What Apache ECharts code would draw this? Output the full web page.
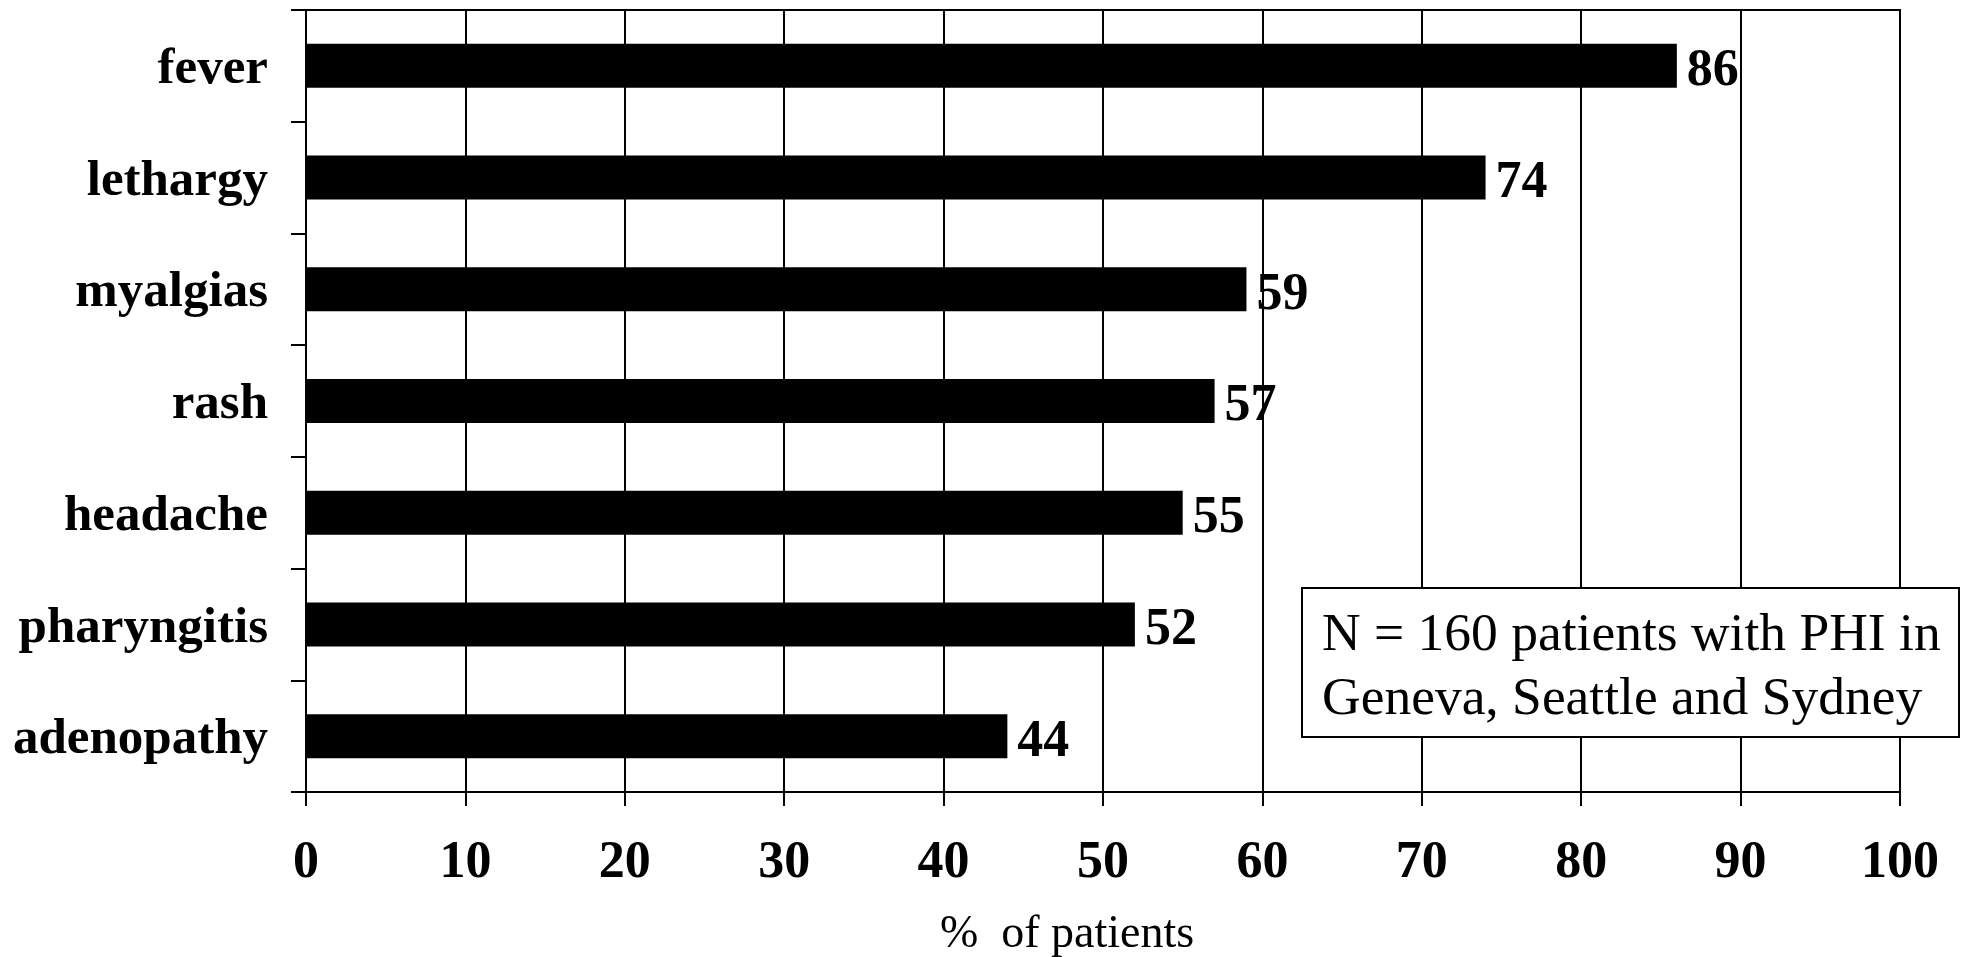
<!DOCTYPE html>
<html>
<head>
<meta charset="utf-8">
<script src="https://cdn.jsdelivr.net/npm/echarts@6/dist/echarts.min.js"></script>
<style>
html,body{margin:0;padding:0;background:#fff;}
#chart{width:1966px;height:957px;}
</style>
</head>
<body>
<div id="chart"></div>
<script>
const categories = ['fever', 'lethargy', 'myalgias', 'rash', 'headache', 'pharyngitis', 'adenopathy'];
const values = [86, 74, 59, 57, 55, 52, 44];
const xTicks = [0, 10, 20, 30, 40, 50, 60, 70, 80, 90, 100];
const axisTitle = '%  of patients';
const noteLines = ['N = 160 patients with PHI in', 'Geneva, Seattle and Sydney'];

const FONT = '"Liberation Serif", "Times New Roman", Times, serif';
const chart = echarts.init(document.getElementById('chart'), null, {renderer: 'canvas'});
chart.setOption({
  backgroundColor: '#fff',
  animation: false,
  grid: {left: 306, right: 66, top: 10, bottom: 165, outerBoundsMode: 'none', containLabel: false,
         show: true, borderColor: '#000', borderWidth: 2, backgroundColor: 'transparent'},
  xAxis: {
    type: 'value', min: xTicks[0], max: xTicks[xTicks.length - 1], interval: 10,
    axisLine: {show: true, lineStyle: {color: '#000', width: 2}},
    axisTick: {show: true, length: 14, lineStyle: {color: '#000', width: 2}},
    splitLine: {show: true, lineStyle: {color: '#000', width: 2}},
    axisLabel: {color: '#000', fontFamily: FONT, fontWeight: 'bold', fontSize: 52, margin: 46},
    name: axisTitle, nameLocation: 'middle', nameGap: 120,
    nameTextStyle: {color: '#000', fontFamily: FONT, fontSize: 46, padding: [0, 72, 0, 0]}
  },
  yAxis: {
    type: 'category', data: categories, inverse: true,
    axisLine: {show: true, lineStyle: {color: '#000', width: 2}},
    axisTick: {show: true, length: 15, lineStyle: {color: '#000', width: 2}},
    axisLabel: {color: '#000', fontFamily: FONT, fontWeight: 'bold', fontSize: 51, margin: 38, verticalAlign: 'top', lineHeight: 8}
  },
  series: [{
    type: 'bar', data: values, barWidth: 44,
    itemStyle: {color: '#000'},
    label: {show: true, position: 'right', distance: 10, color: '#000', fontFamily: FONT, fontWeight: 'bold', fontSize: 52, verticalAlign: 'top', lineHeight: 12}
  }],
  graphic: [{
    type: 'group', left: 1301, top: 587, z: 100,
    children: [
      {type: 'rect', z: 100, shape: {x: 0, y: 0, width: 657, height: 149}, style: {fill: '#fff', stroke: '#000', lineWidth: 2}},
      {type: 'text', z: 101, x: 20, y: 16, style: {text: noteLines.join('\n'), font: '53.5px ' + FONT, fill: '#000', lineHeight: 64}}
    ]
  }]
});
</script>
</body>
</html>
